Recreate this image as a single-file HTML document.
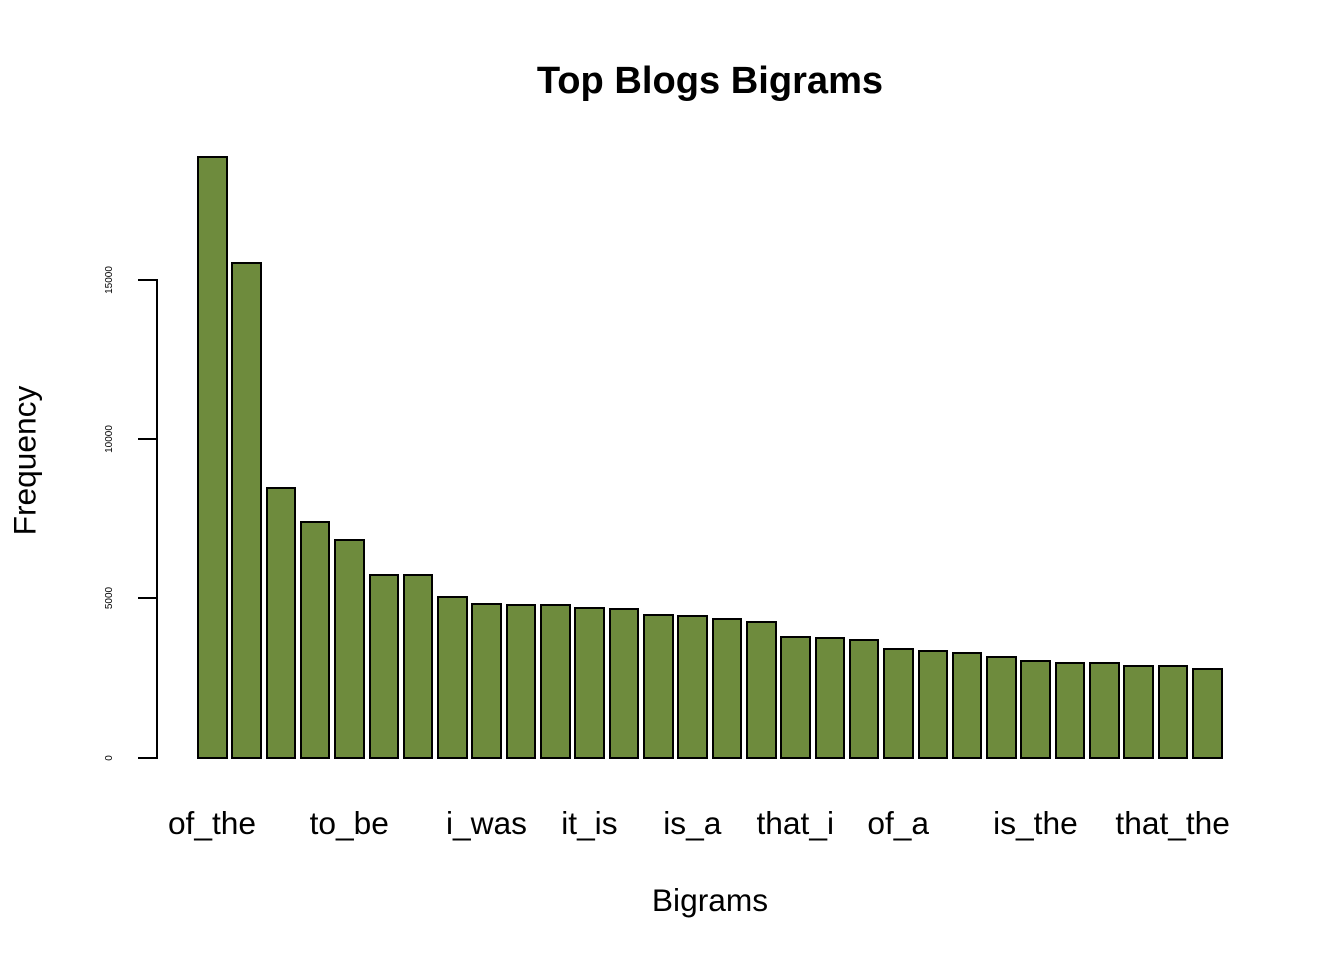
<!DOCTYPE html>
<html lang="en">
<head>
<meta charset="utf-8">
<title>Top Blogs Bigrams</title>
<style>
html,body{margin:0;padding:0;background:#fff;width:1344px;height:960px;overflow:hidden}
svg{display:block}
text{font-family:"Liberation Sans",Arial,sans-serif;fill:#000;text-anchor:middle}
</style>
</head>
<body>
<svg id="chart" width="1344" height="960" viewBox="0 0 1344 960" xmlns="http://www.w3.org/2000/svg">
  <text x="710" y="93" font-size="38.1" font-weight="bold">Top Blogs Bigrams</text>
  <text x="710" y="911" font-size="31.7">Bigrams</text>
  <text transform="translate(35.5 460.5) rotate(-90)" font-size="31.7">Frequency</text>
  <g id="bars"></g>
  <g id="y-axis"></g>
  <g id="x-labels"></g>
</svg>
<script>
const categoryLabels = ["of_the","","","","to_be","","","","i_was","","","it_is","","","is_a","","","that_i","","","of_a","","","","is_the","","","","that_the",""];
const frequencies = [18858,15532,8472,7405,6840,5742,5742,5052,4832,4801,4801,4707,4675,4487,4456,4362,4267,3797,3765,3703,3420,3357,3295,3169,3044,2981,2981,2887,2887,2793];
const yTicks = [0,5000,10000,15000];

const NS = 'http://www.w3.org/2000/svg';
const barsGroup = document.getElementById('bars');
const yAxisGroup = document.getElementById('y-axis');
const xLabelGroup = document.getElementById('x-labels');

function yScale(v){ return 758 - v * (478 / 15000); }
function xLeft(i){ return 198 + i * 34.31; }
const barWidth = 28.55;

function makeLine(x1,y1,x2,y2){
  const l = document.createElementNS(NS,'line');
  l.setAttribute('x1',x1);
  l.setAttribute('y1',y1);
  l.setAttribute('x2',x2);
  l.setAttribute('y2',y2);
  l.setAttribute('stroke','#000');
  l.setAttribute('stroke-width','2');
  l.setAttribute('stroke-linecap','square');
  l.setAttribute('shape-rendering','crispEdges');
  return l;
}

frequencies.forEach(function(v,i){
  const r = document.createElementNS(NS,'rect');
  const x = Math.round(xLeft(i));
  const right = Math.round(xLeft(i) + barWidth);
  const y = Math.round(yScale(v));
  r.setAttribute('x',x);
  r.setAttribute('y',y);
  r.setAttribute('width',right - x);
  r.setAttribute('height',Math.round(yScale(0)) - y);
  r.setAttribute('fill','#6E8B3D');
  r.setAttribute('stroke','#000');
  r.setAttribute('stroke-width','2');
  r.setAttribute('shape-rendering','crispEdges');
  
  
  barsGroup.appendChild(r);
});

const axisLine = makeLine(157,yScale(yTicks[0]),157,yScale(yTicks[yTicks.length-1]));


yAxisGroup.appendChild(axisLine);

yTicks.forEach(function(t){
  const y = Math.floor(yScale(t));
  const tick = makeLine(139,y,157,y);
  
  
  yAxisGroup.appendChild(tick);
  const label = document.createElementNS(NS,'text');
  label.setAttribute('transform','translate(112 '+y+') rotate(-90)');
  label.setAttribute('font-size','10');
  label.textContent = String(t);
  
  
  yAxisGroup.appendChild(label);
});

categoryLabels.forEach(function(name,i){
  if(!name) return;
  const label = document.createElementNS(NS,'text');
  label.setAttribute('x',xLeft(i) + 14);
  label.setAttribute('y',834);
  label.setAttribute('font-size','31.7');
  label.textContent = name;
  
  
  xLabelGroup.appendChild(label);
});
</script>
</body>
</html>
